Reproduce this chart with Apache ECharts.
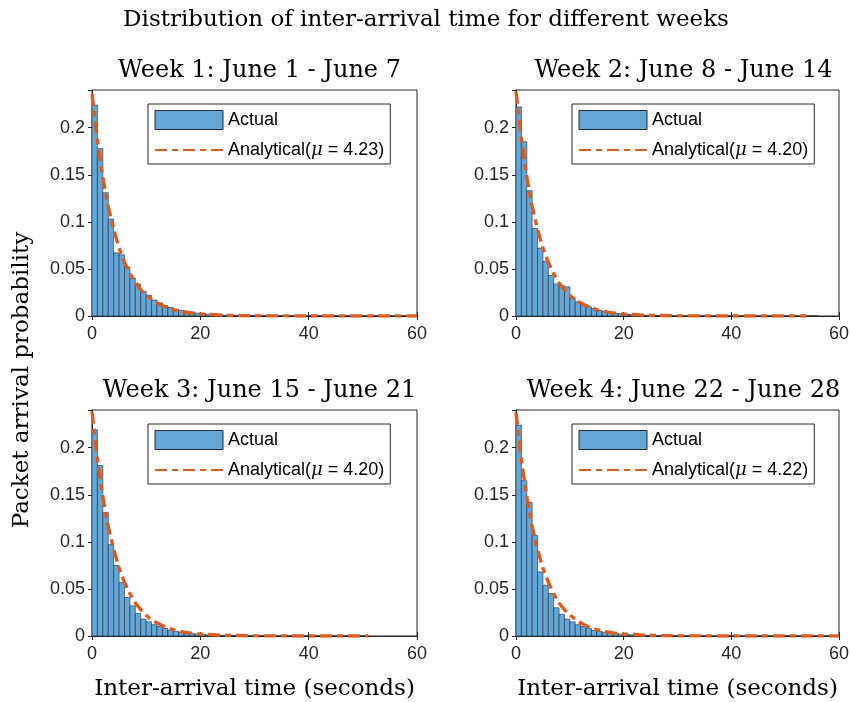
<!DOCTYPE html>
<html style="height: 100%">
<head>
  <meta charset="utf-8">
</head>
<body style="height: 100%; margin: 0; background: #fff">
  <div id="container" style="width: 852px; height: 702px"></div>
  <script type="text/javascript" src="https://fastly.jsdelivr.net/npm/echarts@6/dist/echarts.min.js"></script>
  <script type="text/javascript">
// histogram bins of width 1 s, starting at 0
const week1Bins = [0.224, 0.178, 0.131, 0.103, 0.067, 0.065, 0.052, 0.040, 0.034, 0.026,
  0.022, 0.017, 0.014, 0.011, 0.009, 0.007, 0.006, 0.005, 0.004, 0.003,
  0.0025, 0.002, 0.0016, 0.0013, 0.001, 0.0008, 0.0007, 0.0005, 0.0004, 0.0004,
  0.0003, 0.0003, 0.0002, 0.0002, 0.0002, 0.0002, 0.0001, 0.0001, 0.0001, 0.0001,
  0.0001, 0.0001, 0.0001, 0.0001, 0.0001, 0.0001, 0.0001, 0.0001, 0.0001, 0.0001,
  0.0001, 0.0001, 0.0001, 0.0001, 0.0001, 0.0001, 0.0001, 0.0001, 0.0001, 0.0001];
const week2Bins = [0.222, 0.185, 0.133, 0.093, 0.072, 0.058, 0.043, 0.034, 0.032, 0.031,
  0.019, 0.015, 0.012, 0.010, 0.008, 0.006, 0.005, 0.004, 0.003, 0.0025,
  0.002, 0.0016, 0.0013, 0.001, 0.0008, 0.0007, 0.0005, 0.0004, 0.0004, 0.0003,
  0.0003, 0.0002, 0.0002, 0.0002, 0.0001, 0.0001, 0.0001, 0.0001, 0.0001, 0.0001,
  0.0001, 0.0001, 0.0001, 0.0001, 0.0001, 0.0001, 0.0001, 0.0001, 0.0001, 0.0001,
  0.0001, 0.0001, 0.0001, 0.0001, 0.0001, 0.0001];
const week3Bins = [0.219, 0.181, 0.131, 0.097, 0.075, 0.057, 0.041, 0.032, 0.024, 0.018,
  0.015, 0.012, 0.010, 0.008, 0.006, 0.005, 0.004, 0.003, 0.0025, 0.002,
  0.0016, 0.0013, 0.001, 0.0008, 0.0007, 0.0005, 0.0004, 0.0004, 0.0003, 0.0003,
  0.0002, 0.0002, 0.0002, 0.0001, 0.0001, 0.0001, 0.0001, 0.0001, 0.0001, 0.0001,
  0.0001, 0.0001, 0.0001, 0.0001, 0.0001, 0.0001, 0.0001, 0.0001, 0.0001, 0.0001,
  0.0001];
const week4Bins = [0.224, 0.165, 0.142, 0.107, 0.068, 0.054, 0.045, 0.030, 0.023, 0.018,
  0.015, 0.012, 0.010, 0.008, 0.006, 0.005, 0.004, 0.003, 0.0025, 0.002,
  0.0016, 0.0013, 0.001, 0.0008, 0.0007, 0.0005, 0.0004, 0.0004, 0.0003, 0.0003,
  0.0002, 0.0002, 0.0002, 0.0001, 0.0001, 0.0001, 0.0001, 0.0001, 0.0001, 0.0001,
  0.0001, 0.0001, 0.0001, 0.0001, 0.0001, 0.0001, 0.0001, 0.0001, 0.0001, 0.0001,
  0.0001, 0.0001, 0.0001, 0.0001, 0.0001, 0.0001, 0.0001, 0.0001, 0.0001, 0.0001];

// analytical curve, sampled at these x (seconds)
const curveX = [0, 1, 2, 3, 4, 5, 6, 7, 8, 9, 10, 11, 12, 13, 14, 15, 16, 17, 18, 19, 20,
  25, 30, 35, 40, 45, 50, 51, 54, 55, 60];
const week1Curve = [0.236, 0.187, 0.147, 0.116, 0.092, 0.072, 0.057, 0.045, 0.036, 0.028,
  0.022, 0.018, 0.014, 0.011, 0.0086, 0.0068, 0.0054, 0.0042, 0.0034, 0.0026, 0.0021,
  0.0006, 0.0002, 0.0001, 0, 0, 0, 0, 0, 0, 0];
const week2Curve = [0.238, 0.188, 0.148, 0.116, 0.092, 0.072, 0.057, 0.045, 0.035, 0.028,
  0.022, 0.017, 0.014, 0.011, 0.0085, 0.0067, 0.0053, 0.0041, 0.0033, 0.0026, 0.002,
  0.0006, 0.0002, 0.0001, 0, 0, 0, 0, 0];
const week3Curve = [0.238, 0.188, 0.148, 0.116, 0.092, 0.072, 0.057, 0.045, 0.035, 0.028,
  0.022, 0.017, 0.014, 0.011, 0.0085, 0.0067, 0.0053, 0.0041, 0.0033, 0.0026, 0.002,
  0.0006, 0.0002, 0.0001, 0, 0, 0, 0];
const week4Curve = [0.237, 0.187, 0.148, 0.116, 0.092, 0.072, 0.057, 0.045, 0.035, 0.028,
  0.022, 0.018, 0.014, 0.011, 0.0086, 0.0068, 0.0053, 0.0042, 0.0033, 0.0026, 0.0021,
  0.0006, 0.0002, 0.0001, 0, 0, 0, 0, 0, 0, 0];

const weekTitles = ['Week 1: June 1 - June 7', 'Week 2: June 8 - June 14',
  'Week 3: June 15 - June 21', 'Week 4: June 22 - June 28'];
const muValues = ['4.23', '4.20', '4.20', '4.22'];
const xTicks = [0, 20, 40, 60];
const yTicks = [0, 0.05, 0.1, 0.15, 0.2];

const allBins = [week1Bins, week2Bins, week3Bins, week4Bins];
const allCurves = [week1Curve, week2Curve, week3Curve, week4Curve];

const barColor = '#63A8D8';
const lineColor = '#DE5A1F';
const axisColor = '#262626';
const serif = 'DejaVu Serif';
const sans = 'Liberation Sans';

const gridLeft = [92, 516, 92, 516];
const gridTop = [90, 90, 410, 410];
const gridW = 325, gridH = 226;

var dom = document.getElementById('container');
var myChart = echarts.init(dom, null, { renderer: 'canvas' });

const grids = [], xAxes = [], yAxes = [], series = [], legends = [], titles = [];

titles.push({
  text: 'Distribution of inter-arrival time for different weeks',
  left: 'center', top: 4,
  textStyle: { fontFamily: serif, fontSize: 23, fontWeight: 'normal', color: '#000' }
});

for (let i = 0; i < 4; i++) {
  grids.push({
    left: gridLeft[i], top: gridTop[i], width: gridW, height: gridH,
    show: true, borderColor: axisColor, borderWidth: 1, backgroundColor: '#fff'
  });
  titles.push({
    text: weekTitles[i],
    left: gridLeft[i] + gridW / 2, top: gridTop[i] - 36,
    textAlign: 'center',
    textStyle: { fontFamily: serif, fontSize: 24, fontWeight: 'normal', color: '#000' }
  });
  const bottomRow = i >= 2;
  xAxes.push({
    type: 'value', gridIndex: i, min: 0, max: 60, interval: 20,
    name: bottomRow ? 'Inter-arrival time (seconds)' : '',
    nameLocation: 'middle', nameGap: 42,
    nameTextStyle: { fontFamily: serif, fontSize: 23, color: '#000' },
    axisLine: { show: true, lineStyle: { color: axisColor } },
    axisTick: { show: true, inside: true, length: 4, lineStyle: { color: axisColor } },
    axisLabel: {
      fontFamily: sans, fontSize: 18, color: axisColor, margin: 9,
      formatter: v => (xTicks.indexOf(v) >= 0 ? String(v) : '')
    },
    splitLine: { show: false }
  });
  yAxes.push({
    type: 'value', gridIndex: i, min: 0, max: 0.24, interval: 0.05,
    axisLine: { show: true, lineStyle: { color: axisColor } },
    axisTick: { show: true, inside: true, length: 4, lineStyle: { color: axisColor } },
    axisLabel: {
      fontFamily: sans, fontSize: 18, color: axisColor, margin: 7, showMaxLabel: false,
      formatter: v => (yTicks.some(t => Math.abs(t - v) < 1e-9) ? String(+v.toFixed(2)) : '')
    },
    splitLine: { show: false }
  });
}
// mirrored ticks on top and right (box on)
for (let i = 0; i < 4; i++) {
  xAxes.push({
    type: 'value', gridIndex: i, min: 0, max: 60, interval: 20, position: 'top',
    axisLine: { show: false },
    axisTick: { show: true, inside: true, length: 4, lineStyle: { color: axisColor } },
    axisLabel: { show: false }, splitLine: { show: false }
  });
  yAxes.push({
    type: 'value', gridIndex: i, min: 0, max: 0.24, interval: 0.05, position: 'right',
    axisLine: { show: false },
    axisTick: { show: true, inside: true, length: 4, lineStyle: { color: axisColor } },
    axisLabel: { show: false }, splitLine: { show: false }
  });
}

for (let i = 0; i < 4; i++) {
  const lineName = 'Analytical(μ = ' + muValues[i] + ')';
  series.push({
    type: 'custom', name: 'Actual', xAxisIndex: i, yAxisIndex: i,
    itemStyle: { color: barColor },
    encode: { x: 0, y: 1 },
    data: allBins[i].map((h, k) => [k, h]),
    renderItem: function (params, api) {
      const p0 = api.coord([api.value(0), 0]);
      const p1 = api.coord([api.value(0) + 1, api.value(1)]);
      return {
        type: 'rect',
        shape: { x: p0[0], y: p1[1], width: p1[0] - p0[0], height: p0[1] - p1[1] },
        style: { fill: barColor, stroke: '#1c2a36', lineWidth: 0.6 }
      };
    },
    z: 2
  });
  series.push({
    type: 'line', name: lineName, xAxisIndex: i, yAxisIndex: i,
    symbol: 'none', showSymbol: false, smooth: false,
    lineStyle: { color: lineColor, width: 3.4, type: [12, 5, 6, 5] },
    itemStyle: { color: lineColor },
    data: allCurves[i].map((y, j) => [curveX[j], y]),
    z: 3
  });
  legends.push({
    left: gridLeft[i] + 56, top: gridTop[i] + 14,
    orient: 'vertical', selectedMode: false,
    padding: [6, 6, 5, 6], itemGap: 11, itemWidth: 68, itemHeight: 19,
    backgroundColor: '#fff', borderColor: axisColor, borderWidth: 1, borderRadius: 0,
    textStyle: {
      fontFamily: sans, fontSize: 18, color: '#000',
      rich: { m: { fontFamily: serif, fontStyle: 'italic', fontSize: 18, color: '#000' } }
    },
    formatter: name => name.replace('μ', '{m|μ}'),
    data: [
      { name: 'Actual', icon: 'rect', itemStyle: { color: barColor, borderColor: axisColor, borderWidth: 1 } },
      { name: lineName, itemStyle: { opacity: 0 } }
    ]
  });
}

var option = {
  backgroundColor: '#fff',
  animation: false,
  title: titles,
  grid: grids,
  xAxis: xAxes,
  yAxis: yAxes,
  legend: legends,
  series: series,
  graphic: [{
    type: 'text', x: 22, y: 380, rotation: Math.PI / 2,
    style: {
      text: 'Packet arrival probability', fontFamily: serif, fontSize: 23, fill: '#000',
      align: 'center', verticalAlign: 'middle'
    }
  }]
};

myChart.setOption(option);
window.addEventListener('resize', myChart.resize);
  </script>
</body>
</html>
